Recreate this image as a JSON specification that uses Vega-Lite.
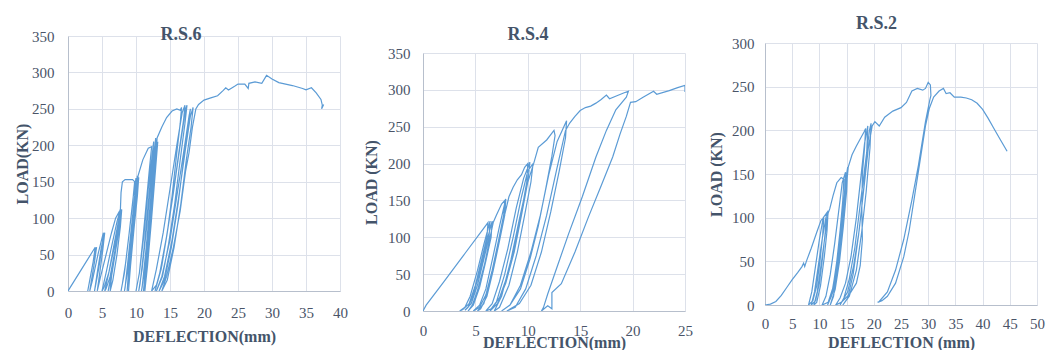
{
  "$schema": "https://vega.github.io/schema/vega-lite/v6.json",
  "background": "white",
  "padding": {"left": 14, "top": 8, "right": 4, "bottom": 0},
  "spacing": 15,
  "config": {
    "font": "Liberation Serif",
    "view": {"stroke": null},
    "axis": {"labelFont": "Liberation Serif", "labelFontSize": 15, "labelColor": "#4a5468", "labelFlush": false, "titleFont": "Liberation Serif", "titleFontSize": 16, "titleFontWeight": "bold", "titleColor": "#44546a", "gridColor": "#dde1ea", "domainColor": "#b7bfcc", "ticks": false, "grid": true},
    "title": {"font": "Liberation Serif", "fontSize": 18, "fontWeight": "bold", "color": "#44546a", "frame": "bounds"},
    "line": {"color": "#5b9bd5", "strokeWidth": 1.2}
  },
  "datasets": {
    "spacer": [{"s": 0}],
    "rs6": [
      {"x":0,"y":0},{"x":2,"y":30},{"x":4,"y":60},{"x":3.7,"y":40},{"x":3.2,"y":15},{"x":2.9,"y":0},{"x":3.3,"y":20},{"x":3.9,"y":50},{"x":4.2,"y":60},{"x":3.9,"y":40},{"x":3.4,"y":12},{"x":3.2,"y":0},
      {"x":3.6,"y":15},{"x":4.4,"y":50},{"x":5.2,"y":80},{"x":5.0,"y":60},{"x":4.5,"y":30},{"x":4.0,"y":5},{"x":3.9,"y":0},{"x":4.3,"y":25},{"x":4.9,"y":60},{"x":5.4,"y":80},{"x":5.1,"y":55},{"x":4.6,"y":20},{"x":4.3,"y":0},
      {"x":4.8,"y":20},{"x":5.6,"y":50},{"x":6.4,"y":80},{"x":7.0,"y":100},{"x":7.6,"y":110},{"x":7.4,"y":90},{"x":6.8,"y":60},{"x":6.0,"y":25},{"x":5.3,"y":5},{"x":5.0,"y":0},
      {"x":5.6,"y":25},{"x":6.5,"y":65},{"x":7.2,"y":95},{"x":7.7,"y":112},{"x":7.5,"y":90},{"x":6.9,"y":55},{"x":6.2,"y":20},{"x":5.6,"y":3},{"x":5.4,"y":0},
      {"x":6.0,"y":25},{"x":6.8,"y":65},{"x":7.4,"y":95},{"x":7.8,"y":110},{"x":7.6,"y":90},{"x":7.0,"y":55},{"x":6.4,"y":20},{"x":5.9,"y":0},
      {"x":6.3,"y":20},{"x":7.0,"y":60},{"x":7.6,"y":95},{"x":7.9,"y":112},{"x":7.7,"y":88},{"x":7.2,"y":50},{"x":6.6,"y":15},{"x":6.2,"y":0},
      {"x":6.5,"y":30},{"x":7.3,"y":75},{"x":7.7,"y":110},{"x":7.8,"y":135},{"x":8.0,"y":150},{"x":8.4,"y":153},{"x":9.5,"y":153},{"x":9.8,"y":150},{"x":9.5,"y":120},{"x":9.0,"y":80},{"x":8.5,"y":40},{"x":8.0,"y":10},{"x":7.8,"y":0},
      {"x":8.3,"y":25},{"x":9.0,"y":80},{"x":9.6,"y":130},{"x":10.0,"y":155},{"x":9.8,"y":130},{"x":9.3,"y":85},{"x":8.8,"y":40},{"x":8.4,"y":5},{"x":8.3,"y":0},
      {"x":8.8,"y":30},{"x":9.5,"y":90},{"x":10.0,"y":140},{"x":10.2,"y":158},{"x":10.0,"y":135},{"x":9.5,"y":90},{"x":9.0,"y":40},{"x":8.7,"y":0},
      {"x":9.0,"y":30},{"x":9.6,"y":90},{"x":10.1,"y":140},{"x":10.4,"y":156},{"x":10.2,"y":130},{"x":9.7,"y":85},{"x":9.2,"y":35},{"x":8.9,"y":0},
      {"x":9.3,"y":50},{"x":9.9,"y":110},{"x":10.3,"y":158},{"x":11.0,"y":180},{"x":11.8,"y":196},{"x":12.3,"y":198},{"x":12.0,"y":170},{"x":11.5,"y":120},{"x":11.0,"y":70},{"x":10.5,"y":25},{"x":10.0,"y":0},
      {"x":10.5,"y":25},{"x":11.2,"y":80},{"x":11.8,"y":140},{"x":12.3,"y":180},{"x":12.6,"y":205},{"x":12.4,"y":180},{"x":11.8,"y":120},{"x":11.2,"y":60},{"x":10.6,"y":10},{"x":10.4,"y":0},
      {"x":10.9,"y":30},{"x":11.6,"y":90},{"x":12.2,"y":150},{"x":12.7,"y":195},{"x":12.9,"y":210},{"x":12.6,"y":175},{"x":12.0,"y":110},{"x":11.4,"y":50},{"x":10.9,"y":5},{"x":10.8,"y":0},
      {"x":11.3,"y":30},{"x":12.0,"y":95},{"x":12.5,"y":150},{"x":12.9,"y":200},{"x":13.0,"y":208},{"x":12.7,"y":170},{"x":12.1,"y":100},{"x":11.5,"y":40},{"x":11.1,"y":0},
      {"x":11.6,"y":30},{"x":12.2,"y":90},{"x":12.7,"y":150},{"x":13.0,"y":195},{"x":13.2,"y":205},{"x":12.9,"y":170},{"x":12.3,"y":100},{"x":11.7,"y":35},{"x":11.3,"y":0},
      {"x":11.6,"y":40},{"x":12.3,"y":110},{"x":12.9,"y":180},{"x":13.1,"y":210},{"x":13.8,"y":225},{"x":14.5,"y":238},{"x":15.3,"y":247},{"x":16.0,"y":250},{"x":16.5,"y":248},{"x":16.7,"y":252},{"x":16.5,"y":230},{"x":16.0,"y":190},{"x":15.3,"y":130},{"x":14.6,"y":80},{"x":13.8,"y":35},{"x":13.0,"y":8},{"x":12.3,"y":0},
      {"x":13.0,"y":30},{"x":14.0,"y":80},{"x":15.0,"y":140},{"x":16.0,"y":200},{"x":16.8,"y":245},{"x":17.2,"y":255},{"x":17.0,"y":235},{"x":16.3,"y":190},{"x":15.5,"y":135},{"x":14.6,"y":80},{"x":13.7,"y":30},{"x":12.8,"y":0},
      {"x":13.5,"y":25},{"x":14.5,"y":75},{"x":15.5,"y":135},{"x":16.5,"y":200},{"x":17.3,"y":250},{"x":17.5,"y":255},{"x":17.2,"y":230},{"x":16.5,"y":180},{"x":15.7,"y":120},{"x":14.8,"y":65},{"x":13.9,"y":20},{"x":13.0,"y":0},
      {"x":13.8,"y":20},{"x":15.0,"y":70},{"x":16.0,"y":130},{"x":17.0,"y":190},{"x":17.8,"y":240},{"x":18.0,"y":250},{"x":17.7,"y":225},{"x":17.0,"y":180},{"x":16.2,"y":120},{"x":15.2,"y":60},{"x":14.2,"y":15},{"x":13.4,"y":0},
      {"x":14.2,"y":20},{"x":15.3,"y":70},{"x":16.3,"y":130},{"x":17.2,"y":190},{"x":18.0,"y":240},{"x":18.4,"y":252},{"x":18.1,"y":225},{"x":17.4,"y":180},{"x":16.6,"y":120},{"x":15.6,"y":60},{"x":14.6,"y":15},{"x":13.8,"y":0},
      {"x":14.5,"y":20},{"x":15.5,"y":60},{"x":16.5,"y":110},{"x":17.3,"y":165},{"x":17.8,"y":190},{"x":18.3,"y":225},{"x":18.8,"y":250},{"x":19.2,"y":256},{"x":20,"y":262},{"x":21,"y":265},{"x":22,"y":268},{"x":22.8,"y":275},{"x":23.2,"y":279},{"x":23.6,"y":276},{"x":24.5,"y":281},{"x":25,"y":284},{"x":26,"y":284},{"x":26.5,"y":278},{"x":26.6,"y":285},{"x":27.5,"y":287},{"x":28.5,"y":285},{"x":29.2,"y":296},{"x":30,"y":291},{"x":31,"y":286},{"x":32,"y":284},{"x":33,"y":282},{"x":34.5,"y":278},{"x":35,"y":276},{"x":35.8,"y":279},{"x":36.5,"y":272},{"x":37.2,"y":263},{"x":37.4,"y":255},{"x":37.3,"y":250},{"x":37.6,"y":256}
    ],
    "rs4": [
      {"x":0,"y":0},{"x":0.3,"y":8},{"x":2,"y":40},{"x":4,"y":78},{"x":6.2,"y":120},{"x":6.1,"y":100},{"x":5.6,"y":70},{"x":5.0,"y":35},{"x":4.4,"y":10},{"x":3.8,"y":2},{"x":3.5,"y":0},
      {"x":4.0,"y":5},{"x":4.5,"y":20},{"x":5.2,"y":55},{"x":5.8,"y":90},{"x":6.4,"y":122},{"x":6.3,"y":100},{"x":5.8,"y":70},{"x":5.2,"y":35},{"x":4.6,"y":10},{"x":4.0,"y":1},
      {"x":4.3,"y":5},{"x":4.8,"y":22},{"x":5.5,"y":58},{"x":6.1,"y":95},{"x":6.6,"y":122},{"x":6.5,"y":100},{"x":6.0,"y":68},{"x":5.4,"y":32},{"x":4.8,"y":8},{"x":4.3,"y":0},
      {"x":4.7,"y":8},{"x":5.2,"y":28},{"x":5.9,"y":65},{"x":6.4,"y":100},{"x":6.7,"y":120},{"x":7.0,"y":130},{"x":7.5,"y":145},{"x":7.8,"y":150},{"x":7.7,"y":130},{"x":7.2,"y":95},{"x":6.6,"y":55},{"x":6.0,"y":22},{"x":5.4,"y":5},{"x":4.8,"y":0},
      {"x":5.4,"y":8},{"x":6.0,"y":30},{"x":6.7,"y":75},{"x":7.3,"y":115},{"x":7.9,"y":152},{"x":7.8,"y":130},{"x":7.3,"y":95},{"x":6.7,"y":55},{"x":6.1,"y":20},{"x":5.5,"y":3},{"x":5.2,"y":0},
      {"x":5.8,"y":10},{"x":6.4,"y":38},{"x":7.1,"y":85},{"x":7.7,"y":125},{"x":8.2,"y":155},{"x":8.6,"y":168},{"x":9.0,"y":178},{"x":9.4,"y":185},{"x":9.7,"y":195},{"x":10.0,"y":200},{"x":9.9,"y":175},{"x":9.4,"y":135},{"x":8.8,"y":90},{"x":8.1,"y":50},{"x":7.3,"y":18},{"x":6.5,"y":3},{"x":6.0,"y":0},
      {"x":6.6,"y":10},{"x":7.3,"y":40},{"x":8.1,"y":85},{"x":8.9,"y":140},{"x":9.6,"y":180},{"x":10.2,"y":202},{"x":10.0,"y":175},{"x":9.4,"y":130},{"x":8.7,"y":80},{"x":7.9,"y":38},{"x":7.1,"y":10},{"x":6.4,"y":0},
      {"x":7.0,"y":12},{"x":7.8,"y":50},{"x":8.6,"y":100},{"x":9.4,"y":155},{"x":10.0,"y":190},{"x":10.5,"y":200},{"x":10.3,"y":175},{"x":9.7,"y":130},{"x":9.0,"y":80},{"x":8.2,"y":35},{"x":7.3,"y":5},{"x":6.8,"y":0},
      {"x":7.5,"y":20},{"x":8.4,"y":70},{"x":9.2,"y":125},{"x":9.9,"y":170},{"x":10.6,"y":202},{"x":11.0,"y":222},{"x":11.8,"y":232},{"x":12.5,"y":245},{"x":12.6,"y":238},{"x":12.3,"y":210},{"x":11.7,"y":165},{"x":11.0,"y":115},{"x":10.2,"y":70},{"x":9.3,"y":30},{"x":8.3,"y":8},{"x":7.5,"y":0},
      {"x":8.3,"y":8},{"x":9.3,"y":35},{"x":10.3,"y":80},{"x":11.2,"y":130},{"x":12.0,"y":185},{"x":12.8,"y":230},{"x":13.7,"y":258},{"x":13.6,"y":235},{"x":13.0,"y":190},{"x":12.2,"y":135},{"x":11.3,"y":80},{"x":10.3,"y":35},{"x":9.2,"y":10},{"x":8.0,"y":0},
      {"x":8.8,"y":5},{"x":9.8,"y":30},{"x":10.8,"y":75},{"x":11.8,"y":130},{"x":12.8,"y":195},{"x":13.6,"y":245},{"x":14.0,"y":255},{"x":14.5,"y":264},{"x":15.0,"y":272},{"x":15.5,"y":276},{"x":16.0,"y":278},{"x":16.5,"y":282},{"x":17.0,"y":287},{"x":17.5,"y":293},{"x":17.8,"y":288},{"x":18.5,"y":292},{"x":19.2,"y":296},{"x":19.6,"y":298},
      {"x":19.4,"y":290},{"x":18.4,"y":273},{"x":17.5,"y":245},{"x":16.5,"y":209},{"x":15.2,"y":155},{"x":13.9,"y":105},{"x":12.8,"y":60},{"x":11.9,"y":23},{"x":11.5,"y":5},{"x":11.3,"y":0},
      {"x":11.9,"y":7},{"x":12.3,"y":3},{"x":12.3,"y":25},{"x":13.2,"y":37},{"x":14.5,"y":80},{"x":15.8,"y":128},{"x":17.0,"y":170},{"x":18.1,"y":209},{"x":18.8,"y":240},{"x":19.4,"y":264},{"x":19.8,"y":283},{"x":20.3,"y":284},{"x":21.0,"y":290},{"x":22.0,"y":298},{"x":22.3,"y":294},{"x":23.5,"y":299},{"x":24.3,"y":303},{"x":25.0,"y":306},{"x":25.0,"y":297}
    ],
    "rs2": [
      {"x":0,"y":0},{"x":1,"y":1},{"x":2,"y":4},{"x":3,"y":11},{"x":4,"y":20},{"x":5,"y":29},{"x":6,"y":37},{"x":6.8,"y":44},{"x":7.1,"y":48},{"x":7.3,"y":44},{"x":7.6,"y":50},{"x":8.5,"y":65},{"x":9.5,"y":83},{"x":10.3,"y":97},{"x":10.8,"y":100},
      {"x":10.6,"y":80},{"x":10.1,"y":50},{"x":9.5,"y":22},{"x":8.8,"y":5},{"x":8.0,"y":0},
      {"x":8.6,"y":15},{"x":9.3,"y":45},{"x":10.0,"y":75},{"x":10.7,"y":100},{"x":11.3,"y":105},{"x":11.1,"y":85},{"x":10.6,"y":55},{"x":10.0,"y":25},{"x":9.3,"y":5},{"x":8.5,"y":0},
      {"x":9.1,"y":15},{"x":9.8,"y":45},{"x":10.5,"y":75},{"x":11.2,"y":100},{"x":11.6,"y":108},{"x":11.4,"y":85},{"x":10.9,"y":55},{"x":10.2,"y":22},{"x":9.5,"y":3},{"x":9.0,"y":0},
      {"x":9.6,"y":15},{"x":10.4,"y":50},{"x":11.1,"y":82},{"x":11.6,"y":105},{"x":11.9,"y":110},{"x":12.5,"y":125},{"x":13.2,"y":140},{"x":14.0,"y":146},{"x":14.5,"y":144},{"x":14.3,"y":120},{"x":13.8,"y":85},{"x":13.2,"y":50},{"x":12.5,"y":20},{"x":11.6,"y":3},{"x":10.5,"y":0},
      {"x":11.2,"y":10},{"x":12.0,"y":35},{"x":12.8,"y":70},{"x":13.5,"y":105},{"x":14.2,"y":140},{"x":14.8,"y":152},{"x":14.6,"y":125},{"x":14.0,"y":85},{"x":13.3,"y":45},{"x":12.5,"y":15},{"x":11.5,"y":0},
      {"x":12.2,"y":10},{"x":13.0,"y":40},{"x":13.8,"y":80},{"x":14.5,"y":120},{"x":15.0,"y":150},{"x":15.2,"y":158},{"x":15.0,"y":130},{"x":14.4,"y":90},{"x":13.7,"y":50},{"x":12.9,"y":18},{"x":12.0,"y":0},
      {"x":12.6,"y":10},{"x":13.4,"y":42},{"x":14.2,"y":85},{"x":14.8,"y":125},{"x":15.3,"y":158},{"x":16.0,"y":172},{"x":16.8,"y":182},{"x":17.5,"y":190},{"x":18.2,"y":198},{"x":18.5,"y":202},{"x":18.3,"y":180},{"x":17.9,"y":150},{"x":17.8,"y":110},{"x":17.9,"y":75},{"x":17.5,"y":45},{"x":16.8,"y":25},{"x":15.5,"y":12},{"x":14.0,"y":3},{"x":13.0,"y":0},
      {"x":13.8,"y":8},{"x":14.8,"y":25},{"x":15.8,"y":55},{"x":16.8,"y":100},{"x":17.6,"y":145},{"x":18.3,"y":185},{"x":18.9,"y":205},{"x":18.7,"y":175},{"x":18.1,"y":130},{"x":17.3,"y":85},{"x":16.3,"y":45},{"x":15.2,"y":15},{"x":13.8,"y":0},
      {"x":14.5,"y":8},{"x":15.5,"y":30},{"x":16.5,"y":65},{"x":17.5,"y":115},{"x":18.5,"y":165},{"x":19.2,"y":200},{"x":19.5,"y":208},{"x":19.3,"y":180},{"x":18.6,"y":130},{"x":17.8,"y":85},{"x":16.8,"y":40},{"x":15.5,"y":10},{"x":14.3,"y":0},
      {"x":15.2,"y":8},{"x":16.2,"y":35},{"x":17.2,"y":80},{"x":18.2,"y":135},{"x":19.0,"y":180},{"x":19.7,"y":205},{"x":20.2,"y":210},{"x":21,"y":205},{"x":22,"y":215},{"x":23.5,"y":222},{"x":25,"y":226},{"x":26,"y":232},{"x":27,"y":245},{"x":28,"y":248},{"x":29,"y":246},{"x":29.5,"y":248},{"x":30,"y":255},{"x":30.4,"y":252},{"x":30.5,"y":240},
      {"x":30.3,"y":235},{"x":29.5,"y":210},{"x":28.2,"y":160},{"x":27.0,"y":120},{"x":25.5,"y":75},{"x":24,"y":40},{"x":22.5,"y":15},{"x":21,"y":4},{"x":20.7,"y":3},
      {"x":21.5,"y":5},{"x":22.5,"y":10},{"x":24,"y":25},{"x":25.5,"y":55},{"x":26.5,"y":85},{"x":27.5,"y":125},{"x":28.5,"y":165},{"x":29.5,"y":205},{"x":30.2,"y":225},{"x":31,"y":238},{"x":32,"y":245},{"x":32.8,"y":248},{"x":33.3,"y":242},{"x":34,"y":243},{"x":34.8,"y":238},{"x":36,"y":238},{"x":37,"y":237},{"x":38,"y":235},{"x":39,"y":231},{"x":40,"y":224},{"x":41,"y":214},{"x":42,"y":203},{"x":43,"y":192},{"x":44.5,"y":176}
    ]
  },
  "hconcat": [
    {"spacing": 0, "vconcat": [
    {"width": 272, "height": 15, "data": {"name": "spacer"}, "mark": {"type": "point", "opacity": 0}, "encoding": {}},
    {
      "width": 272, "height": 255,
      "title": {"text": "R.S.6", "offset": -15},
      "data": {"name": "rs6"},
      "mark": {"type": "line", "clip": true},
      "encoding": {
        "x": {"field": "x", "type": "quantitative", "scale": {"domain": [0, 40]}, "axis": {"values": [0,5,10,15,20,25,30,35,40], "title": "DEFLECTION(mm)", "labelPadding": 14, "titlePadding": 8}},
        "y": {"field": "y", "type": "quantitative", "scale": {"domain": [0, 350]}, "axis": {"values": [0,50,100,150,200,250,300,350], "title": "LOAD(KN)", "labelPadding": 14, "titlePadding": 1}},
        "order": {"value": null}
      }
    }]},
    {"spacing": 0, "vconcat": [
    {"width": 262, "height": 15, "data": {"name": "spacer"}, "mark": {"type": "point", "opacity": 0}, "encoding": {}},
    {
      "width": 262, "height": 258,
      "title": {"text": "R.S.4", "offset": 2},
      "data": {"name": "rs4"},
      "mark": {"type": "line", "clip": true},
      "encoding": {
        "x": {"field": "x", "type": "quantitative", "scale": {"domain": [0, 25]}, "axis": {"values": [0,5,10,15,20,25], "title": "DEFLECTION(mm)", "labelPadding": 12, "titlePadding": -4}},
        "y": {"field": "y", "type": "quantitative", "scale": {"domain": [0, 350]}, "axis": {"values": [0,50,100,150,200,250,300,350], "title": "LOAD (KN)", "labelPadding": 13, "titlePadding": 8}},
        "order": {"value": null}
      }
    }]},
    {"spacing": 0, "vconcat": [
    {"width": 272, "height": 1, "data": {"name": "spacer"}, "mark": {"type": "point", "opacity": 0}, "encoding": {}},
    {
      "width": 272, "height": 262,
      "title": {"text": "R.S.2", "offset": 3},
      "data": {"name": "rs2"},
      "mark": {"type": "line", "clip": true},
      "encoding": {
        "x": {"field": "x", "type": "quantitative", "scale": {"domain": [0, 50]}, "axis": {"values": [0,5,10,15,20,25,30,35,40,45,50], "title": "DEFLECTION (mm)", "labelPadding": 11, "titlePadding": 3}},
        "y": {"field": "y", "type": "quantitative", "scale": {"domain": [0, 300]}, "axis": {"values": [0,50,100,150,200,250,300], "title": "LOAD (KN)", "labelPadding": 11, "titlePadding": 7}},
        "order": {"value": null}
      }
    }]}
  ]
}
